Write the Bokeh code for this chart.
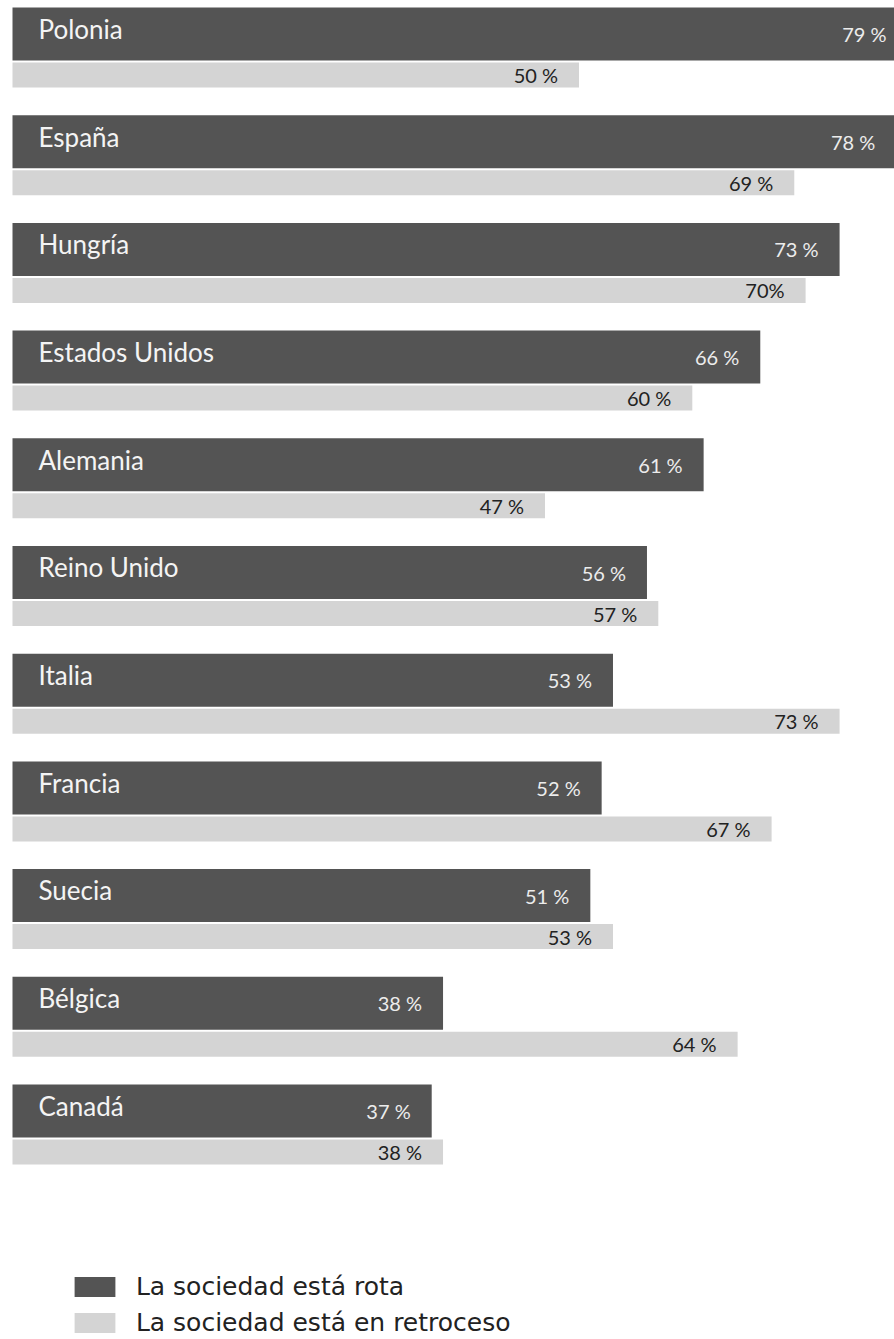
from bokeh.plotting import figure
from bokeh.models import ColumnDataSource, Range1d, Legend, LegendItem
from bokeh.embed import file_html
from bokeh.resources import INLINE
from bokeh.core.properties import value

countries = ["Polonia", "España", "Hungría", "Estados Unidos", "Alemania", "Reino Unido",
             "Italia", "Francia", "Suecia", "Bélgica", "Canadá"]
rota = [79, 78, 73, 66, 61, 56, 53, 52, 51, 38, 37]
retroceso = [50, 69, 70, 60, 47, 57, 73, 67, 53, 64, 38]
rota_labels = ["79 %", "78 %", "73 %", "66 %", "61 %", "56 %", "53 %", "52 %", "51 %", "38 %", "37 %"]
retroceso_labels = ["50 %", "69 %", "70%", "60 %", "47 %", "57 %", "73 %", "67 %", "53 %", "64 %", "38 %"]
series_names = ["La sociedad está rota", "La sociedad está en retroceso"]

DARK = "#545454"
LIGHT = "#d4d4d4"
FONT = value("Lato")

W, H = 894, 1339
PX_PER_PCT = 11.33
PITCH = 107.7
X0 = 12      # pixel where 0 % sits
Y0 = 7       # pixel where the first row starts

idx = list(range(len(countries)))
dark_y = [i + 26.5 / PITCH for i in idx]
light_y = [i + 67.5 / PITCH for i in idx]
name_y = [i + 21.3 / PITCH for i in idx]

src = ColumnDataSource(dict(country=countries, rota=rota, retroceso=retroceso,
                            rota_label=rota_labels, retro_label=retroceso_labels,
                            dark_y=dark_y, light_y=light_y, name_y=name_y,
                            zero=[0] * len(countries)))

p = figure(width=W, height=H, output_backend="svg", toolbar_location=None,
           x_range=Range1d(-X0 / PX_PER_PCT, (W - X0) / PX_PER_PCT),
           y_range=Range1d((H - Y0) / PITCH, -Y0 / PITCH),
           x_axis_location=None, y_axis_location=None,
           min_border=0, min_border_left=0, min_border_right=0,
           min_border_top=0, min_border_bottom=0)
p.grid.visible = False
p.outline_line_color = None
p.background_fill_color = "white"
p.border_fill_color = "white"

r_dark = p.hbar(y="dark_y", left=0, right="rota", height=53 / PITCH, source=src,
                fill_color=DARK, line_color=None)
r_light = p.hbar(y="light_y", left=0, right="retroceso", height=25 / PITCH, source=src,
                 fill_color=LIGHT, line_color=None)

p.text(x="zero", y="name_y", text="country", source=src, x_offset=26,
       text_font=FONT, text_font_size="26px", text_color="#f4f4f4",
       text_baseline="middle", text_align="left")
p.text(x="rota", y="dark_y", text="rota_label", source=src, x_offset=-21,
       text_font=FONT, text_font_size="20px", text_color="#ececec",
       text_baseline="middle", text_align="right")
p.text(x="retroceso", y="light_y", text="retro_label", source=src, x_offset=-21,
       text_font=FONT, text_font_size="20px", text_color="#222222",
       text_baseline="middle", text_align="right")

legend = Legend(items=[LegendItem(label=series_names[0], renderers=[r_dark]),
                       LegendItem(label=series_names[1], renderers=[r_light])],
                location=(68.9, 2), orientation="vertical",
                glyph_width=51, glyph_height=25, label_standoff=16,
                label_text_font="DejaVu Sans", label_text_font_size="25px",
                label_text_color="#222222", label_height=25,
                padding=0, margin=0, spacing=7,
                border_line_color=None, background_fill_alpha=0)
p.add_layout(legend, "center")

open("out.html", "w").write(file_html(p, INLINE))
